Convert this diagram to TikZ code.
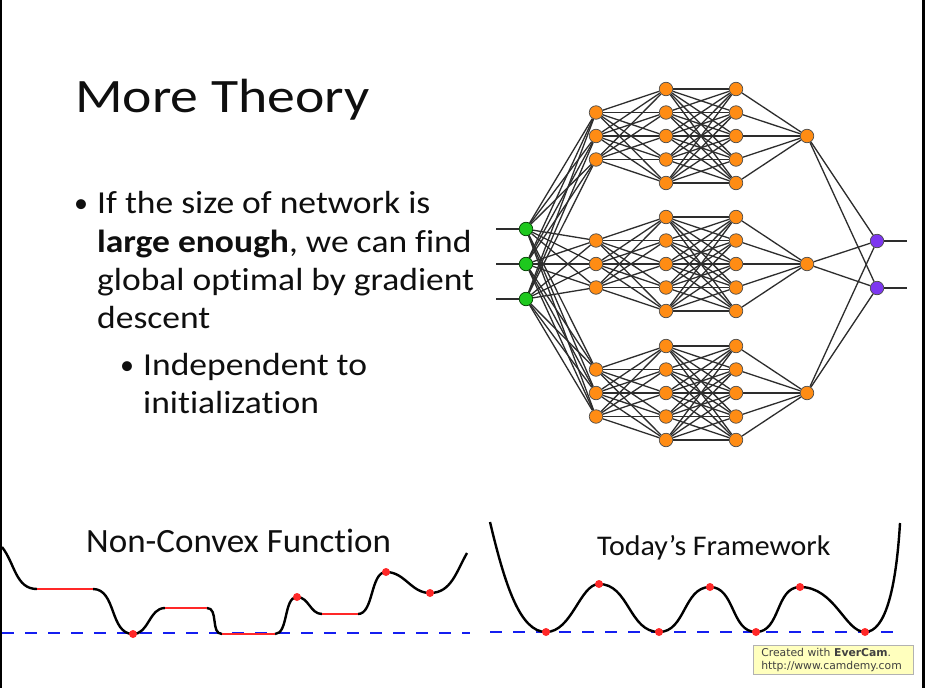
\documentclass[tikz,border=0pt]{standalone}
\usepackage{fontspec}
\usepackage{graphicx}
\setmainfont{Carlito}[Ligatures=NoCommon]
\newfontfamily\evfont{DejaVu Sans}
\usetikzlibrary{backgrounds}
\definecolor{nodeorange}{RGB}{255,140,20}
\definecolor{nodegreen}{RGB}{30,200,30}
\definecolor{nodepurple}{RGB}{125,55,240}
\definecolor{linkgray}{RGB}{45,45,45}
\definecolor{dotred}{RGB}{255,40,40}
\definecolor{baseblue}{RGB}{20,30,240}
\definecolor{everyellow}{RGB}{255,255,190}
\definecolor{slidetext}{RGB}{15,15,15}
\newcommand{\wx}[2]{\scalebox{#1}[1]{#2}}
\begin{document}
\begin{tikzpicture}[x=1pt,y=-1pt,
  neuron/.style={circle, draw=black!70, line width=0.7pt, minimum size=13.5pt, inner sep=0pt, fill=nodeorange},
  inneuron/.style={neuron, fill=nodegreen, draw=green!25!black},
  outneuron/.style={neuron, fill=nodepurple, draw=black!70},
  link/.style={draw=linkgray, line width=1.3pt},
  curveline/.style={draw=black, line width=2.4pt},
  flatline/.style={draw=dotred, line width=2.6pt},
  optdot/.style={circle, fill=dotred, inner sep=0pt, minimum size=8pt},
  bluedash/.style={draw=baseblue, line width=2.8pt, dash pattern=on 12pt off 11pt},
  slidefont/.style={font=\fontsize{32}{38}\selectfont, text=slidetext, inner sep=0pt, anchor=base west},
  bulletfont/.style={font=\fontsize{28}{38}\selectfont, text=slidetext, inner sep=0pt, anchor=base},
  evbox/.style={draw=gray!60, fill=everyellow, line width=0.6pt, inner xsep=8pt, inner ysep=3pt, text width=144pt, align=left, anchor=north west, font=\evfont\fontsize{10.8}{12.5}\selectfont, text=black!75}
]
\useasboundingbox (0,0) rectangle (925,688);

% ---------- network nodes ----------
\foreach \i/\y in {1/229,2/264,3/299} {
  \node[inneuron] (in\i) at (526,\y) {};
  \coordinate (inL\i) at (496,\y);
}
\foreach \g/\cy in {1/136,2/264,3/393} {
  \foreach \k in {1,2,3}
    \node[neuron] (a\g\k) at (596,{\cy+(\k-2)*23.5}) {};
  \foreach \j in {1,...,5} {
    \node[neuron] (b\g\j) at (666,{\cy+(\j-3)*23.5}) {};
    \node[neuron] (c\g\j) at (736,{\cy+(\j-3)*23.5}) {};
  }
  \node[neuron] (d\g) at (807,\cy) {};
}
\foreach \i/\y in {1/241,2/288} {
  \node[outneuron] (out\i) at (877,\y) {};
  \coordinate (outR\i) at (907,\y);
}

\begin{scope}[on background layer]
  % slide background and black frame strips
  \fill[white] (2,0) rectangle (922,688);
  \fill[black] (0,0) rectangle (2,688);
  \fill[black] (922,0) rectangle (925,688);
  % connections
  \foreach \i in {1,2,3} {
    \draw[link] (inL\i) -- (in\i);
    \foreach \g in {1,2,3}
      \foreach \k in {1,2,3}
        \draw[link] (in\i) -- (a\g\k);
  }
  \foreach \g in {1,2,3} {
    \foreach \k in {1,2,3}
      \foreach \j in {1,...,5}
        \draw[link] (a\g\k) -- (b\g\j);
    \foreach \j in {1,...,5} {
      \foreach \m in {1,...,5}
        \draw[link] (b\g\j) -- (c\g\m);
      \draw[link] (c\g\j) -- (d\g);
    }
    \foreach \o in {1,2}
      \draw[link] (d\g) -- (out\o);
  }
  \foreach \o in {1,2}
    \draw[link] (out\o) -- (outR\o);
\end{scope}

% ---------- text ----------
\node[anchor=base west, inner sep=0pt, text=slidetext, font=\fontsize{48}{56}\selectfont] (title) at (75,112) {\wx{1.16}{More Theory}};

\node[bulletfont] (b1) at (81,212) {•};
\node[slidefont] (t1) at (97,213) {\wx{1.11}{If the size of network is}};
\node[slidefont] (t2) at (97,252) {\wx{1.11}{\textbf{large enough}, we can find}};
\node[slidefont] (t3) at (97,290) {\wx{1.11}{global optimal by gradient}};
\node[slidefont] (t4) at (97,328) {\wx{1.11}{descent}};
\node[bulletfont] (b2) at (127,374) {•};
\node[slidefont] (s1) at (143,375) {\wx{1.11}{Independent to}};
\node[slidefont] (s2) at (143,413) {\wx{1.11}{initialization}};

\node[anchor=base west, inner sep=0pt, text=slidetext, font=\fontsize{34}{40}\selectfont] (nclabel) at (86,552) {\wx{1.03}{Non-Convex Function}};
\node[anchor=base west, inner sep=0pt, text=slidetext, font=\fontsize{28.5}{34}\selectfont] (tflabel) at (597,555) {\wx{1.05}{Today’s Framework}};

% ---------- non-convex function ----------
\draw[bluedash] (2,633) -- (470,633);
\coordinate (n0) at (2,547);
\coordinate (n1) at (37,589);
\coordinate (n2) at (93,589);
\coordinate (n3) at (133,634);
\coordinate (n4) at (165,608);
\coordinate (n5) at (207,608);
\coordinate (n6) at (222,634);
\coordinate (n7) at (275,634);
\coordinate (n8) at (297,597);
\coordinate (n9) at (322,614);
\coordinate (n10) at (358,614);
\coordinate (n11) at (386,572);
\coordinate (n12) at (430,593);
\coordinate (n13) at (467,553);
\draw[curveline] (n0) to[out=-52,in=180] (n1);
\draw[curveline] (n2) to[out=0,in=180] (n3) to[out=0,in=180] (n4);
\draw[curveline] (n5) to[out=0,in=180] (n6);
\draw[curveline] (n7) to[out=0,in=180,looseness=0.8] (n8) to[out=0,in=180] (n9);
\draw[curveline] (n10) to[out=0,in=180,looseness=0.8] (n11) to[out=0,in=180] (n12) to[out=0,in=-120] (n13);
\draw[flatline] (n1) -- (n2);
\draw[flatline] (n4) -- (n5);
\draw[flatline] (n6) -- (n7);
\draw[flatline] (n9) -- (n10);
\node[optdot] (nd1) at (n3) {};
\node[optdot] (nd2) at (n8) {};
\node[optdot] (nd3) at (n11) {};
\node[optdot] (nd4) at (n12) {};

% ---------- today's framework ----------
\draw[bluedash] (490,632) -- (897,632);
\coordinate (f0) at (490,522);
\coordinate (f1) at (546,632);
\coordinate (f2) at (599,584);
\coordinate (f3) at (659,632);
\coordinate (f4) at (710,587);
\coordinate (f5) at (756,632);
\coordinate (f6) at (800,587);
\coordinate (f7) at (865,632);
\coordinate (f8) at (900,523);
\draw[curveline] (f0) .. controls (505,585) and (520,632) .. (f1)
  .. controls (572,632) and (580,584) .. (f2)
  to[out=0,in=180] (f3) to[out=0,in=180] (f4) to[out=0,in=180] (f5) to[out=0,in=180] (f6)
  .. controls (835,587) and (845,632) .. (f7)
  .. controls (885,632) and (896,590) .. (f8);
\foreach \p in {1,...,7}
  \node[optdot] (fd\p) at (f\p) {};

% ---------- watermark ----------
\node[evbox] (ever) at (753,645) {Created with \textbf{EverCam}.\\http://www.camdemy.com};
\end{tikzpicture}
\end{document}
